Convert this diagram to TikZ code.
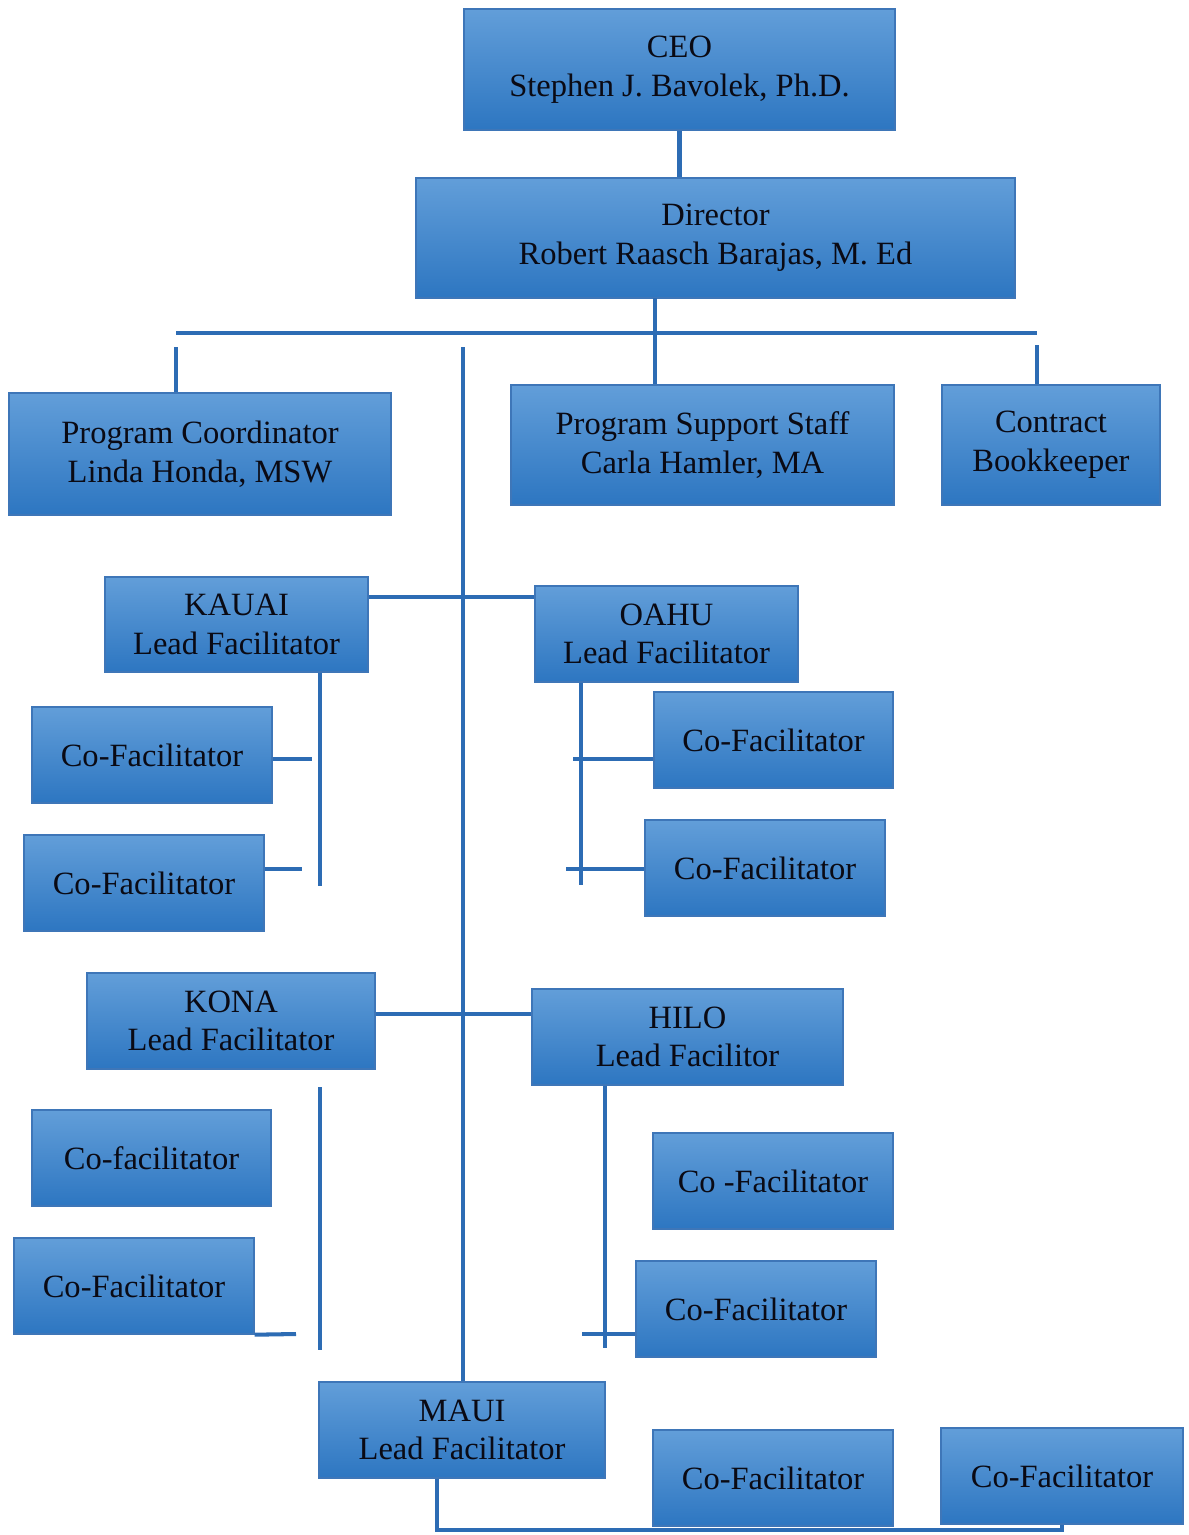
\documentclass[tikz,border=0pt]{standalone}
\usepackage{fontspec}
\setmainfont{Liberation Serif}
\usetikzlibrary{positioning}

\definecolor{boxtop}{RGB}{98,158,217}
\definecolor{boxmid}{RGB}{150,196,236}
\definecolor{boxbot}{RGB}{45,118,193}
\definecolor{boxline}{RGB}{62,118,184}
\definecolor{linkblue}{RGB}{45,108,180}
\definecolor{inktext}{RGB}{10,10,20}

\begin{document}
\begin{tikzpicture}[x=0.2mm,y=-0.2mm]
		\begin{scope}
		
		\tikzstyle{orgbox}=[rectangle,
		draw=boxline,
		line width=0.8pt,
		top color=boxtop,
		middle color=boxmid,
		bottom color=boxbot,
		text=inktext,
		align=center,
		inner sep=0pt,
		font=\fontsize{18.5}{22}\selectfont
		]
		\tikzstyle{link}=[draw=linkblue,line width=2.3pt]
		
		\useasboundingbox (0,0) rectangle (1188,1535);
		
		\coordinate (pceo) at (679.5, 69.5);
		\coordinate (pdir) at (715.5, 238);
		\coordinate (ppc) at (200, 454);
		\coordinate (ppss) at (702.5, 445);
		\coordinate (pcb) at (1051, 445);
		\coordinate (pkauai) at (236.5, 624.5);
		\coordinate (poahu) at (666.5, 634);
		\coordinate (pkco1) at (152, 755);
		\coordinate (pkco2) at (144, 883);
		\coordinate (poco1) at (773.5, 740);
		\coordinate (poco2) at (765, 868);
		\coordinate (pkona) at (231, 1021);
		\coordinate (philo) at (687.5, 1037);
		\coordinate (pnco1) at (151.5, 1158);
		\coordinate (pnco2) at (134, 1286);
		\coordinate (phco1) at (773, 1181);
		\coordinate (phco2) at (756, 1309);
		\coordinate (pmaui) at (462, 1430);
		\coordinate (pmco1) at (773, 1478);
		\coordinate (pmco2) at (1062, 1476);
		
		
		\node[orgbox,minimum width=86.2mm,minimum height=24.2mm] (ceo) at (pceo) {CEO\\Stephen J. Bavolek, Ph.D.};
		\node[orgbox,minimum width=119.8mm,minimum height=24mm] (dir) at (pdir) {Director\\Robert Raasch Barajas, M. Ed};
		\node[orgbox,minimum width=76.4mm,minimum height=24.4mm] (pc) at (ppc) {Program Coordinator\\Linda Honda, MSW};
		\node[orgbox,minimum width=76.6mm,minimum height=24mm] (pss) at (ppss) {Program Support Staff\\Carla Hamler, MA};
		\node[orgbox,minimum width=43.6mm,minimum height=24mm] (cb) at (pcb) {Contract\\Bookkeeper};
		
		\node[orgbox,minimum width=52.6mm,minimum height=19mm] (kauai) at (pkauai) {KAUAI\\Lead Facilitator};
		\node[orgbox,minimum width=52.6mm,minimum height=19.2mm] (oahu) at (poahu) {OAHU\\Lead Facilitator};
		\node[orgbox,minimum width=48mm,minimum height=19.2mm] (kco1) at (pkco1) {Co-Facilitator};
		\node[orgbox,minimum width=48mm,minimum height=19.2mm] (kco2) at (pkco2) {Co-Facilitator};
		\node[orgbox,minimum width=47.8mm,minimum height=19.2mm] (oco1) at (poco1) {Co-Facilitator};
		\node[orgbox,minimum width=48mm,minimum height=19.2mm] (oco2) at (poco2) {Co-Facilitator};
		
		\node[orgbox,minimum width=57.6mm,minimum height=19.2mm] (kona) at (pkona) {KONA\\Lead Facilitator};
		\node[orgbox,minimum width=62.2mm,minimum height=19.2mm] (hilo) at (philo) {HILO\\Lead Facilitor};
		\node[orgbox,minimum width=47.8mm,minimum height=19.2mm] (nco1) at (pnco1) {Co-facilitator};
		\node[orgbox,minimum width=48mm,minimum height=19.2mm] (nco2) at (pnco2) {Co-Facilitator};
		\node[orgbox,minimum width=48mm,minimum height=19.2mm] (hco1) at (phco1) {Co -Facilitator};
		\node[orgbox,minimum width=48mm,minimum height=19.2mm] (hco2) at (phco2) {Co-Facilitator};
		
		\node[orgbox,minimum width=57.2mm,minimum height=19.2mm] (maui) at (pmaui) {MAUI\\Lead Facilitator};
		\node[orgbox,minimum width=48mm,minimum height=19.2mm] (mco1) at (pmco1) {Co-Facilitator};
		\node[orgbox,minimum width=48.4mm,minimum height=19.2mm] (mco2) at (pmco2) {Co-Facilitator};
		
		% free ends of the connectors
		\coordinate (barL) at (176, 333);
		\coordinate (barR) at (1037, 333);
		\coordinate (dirB) at (655, 298);
		\coordinate (pcT) at (176, 347);
		\coordinate (cbT) at (1037, 345);
		\coordinate (spineT) at (463, 347);
		\coordinate (koY) at (0, 597);
		\coordinate (nhY) at (0, 1014);
		\coordinate (kauaiB) at (320, 886);
		\coordinate (kst1) at (312, 759);
		\coordinate (kst2) at (302, 869);
		\coordinate (oahuB) at (581, 885);
		\coordinate (ost1) at (573, 759);
		\coordinate (ost2) at (566, 869);
		\coordinate (konaT) at (320, 1087);
		\coordinate (konaB) at (320, 1350);
		\coordinate (nst2) at (296, 1334);
		\coordinate (hiloB) at (605, 1348);
		\coordinate (hst2) at (582, 1334);
		\coordinate (mauiB) at (437, 1530);
		
		\draw[link] (ceo.south) -- (ceo.south |- dir.north);
		\draw[link] (dirB) -- (dirB |- pss.north);
		\draw[link] (barL) -- (barR);
		\draw[link] (pcT) -- (pcT |- pc.north);
		\draw[link] (cbT) -- (cbT |- cb.north);
		\draw[link] (spineT) -- (spineT |- maui.north);
		
		\draw[link] (kauai.east |- koY) -- (oahu.west |- koY);
		\draw[link] (kauaiB |- kauai.south) -- (kauaiB);
		\draw[link] (kco1.east |- kst1) -- (kst1);
		\draw[link] (kco2.east |- kst2) -- (kst2);
		\draw[link] (oahuB |- oahu.south) -- (oahuB);
		\draw[link] (ost1) -- (ost1 -| oco1.west);
		\draw[link] (ost2) -- (ost2 -| oco2.west);
		
		\draw[link] (kona.east |- nhY) -- (hilo.west |- nhY);
		\draw[link] (konaT) -- (konaB);
		\draw[link] (nco2.south east) -- (nst2);
		\draw[link] (hiloB |- hilo.south) -- (hiloB);
		\draw[link] (hst2) -- (hst2 -| hco2.west);
		
		\draw[link] (mauiB |- maui.south) -- (mauiB) -| (mco2.south);
		
		\end{scope}
		\end{tikzpicture}
\end{document}
